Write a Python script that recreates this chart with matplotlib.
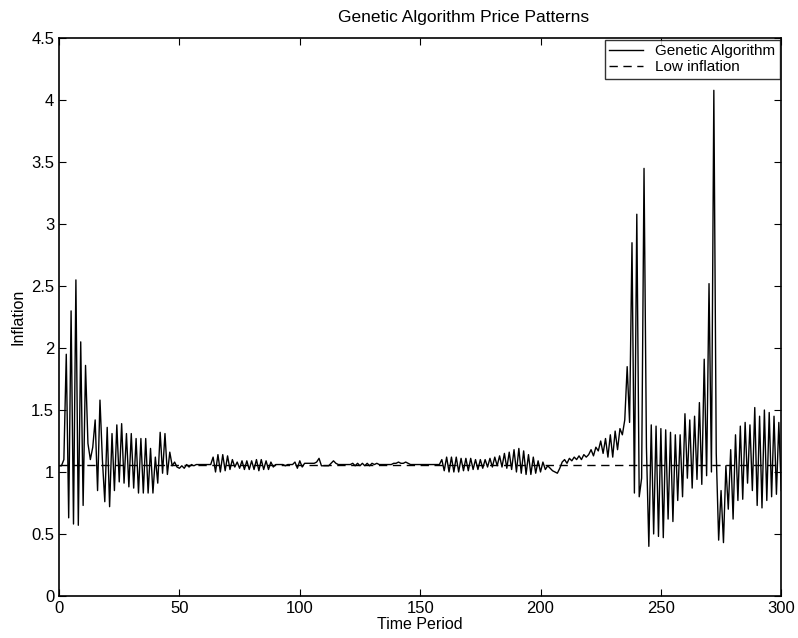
import matplotlib.pyplot as plt
import numpy as np

plt.rcParams['font.family'] = ['Liberation Sans', 'DejaVu Sans']

# inflation, one value per period (t = 0..300)
ga_inflation = [
    1.05, 1.05, 1.10, 1.95, 0.63, 2.30, 0.58, 2.55, 0.57, 2.05,
    0.73, 1.86, 1.23, 1.10, 1.20, 1.42, 0.85, 1.58, 1.10, 0.76,
    1.36, 0.72, 1.31, 0.85, 1.38, 0.92, 1.39, 0.91, 1.31, 0.88,
    1.31, 0.87, 1.27, 0.83, 1.27, 0.83, 1.27, 0.83, 1.19, 0.83,
    1.12, 0.91, 1.32, 0.99, 1.31, 0.98, 1.16, 1.05, 1.08, 1.04,
    1.03, 1.05, 1.03, 1.06, 1.04, 1.06, 1.05, 1.06, 1.06, 1.06,
    1.06, 1.06, 1.06, 1.06, 1.12, 1.00, 1.14, 1.00, 1.14, 1.01,
    1.13, 1.02, 1.10, 1.04, 1.08, 1.03, 1.09, 1.02, 1.09, 1.02,
    1.09, 1.02, 1.10, 1.01, 1.10, 1.02, 1.09, 1.02, 1.08, 1.04,
    1.06, 1.06, 1.06, 1.06, 1.05, 1.06, 1.06, 1.06, 1.08, 1.03,
    1.09, 1.04, 1.07, 1.07, 1.07, 1.07, 1.07, 1.08, 1.11, 1.05,
    1.05, 1.05, 1.05, 1.07, 1.09, 1.07, 1.06, 1.06, 1.06, 1.06,
    1.06, 1.06, 1.07, 1.05, 1.07, 1.05, 1.07, 1.05, 1.07, 1.05,
    1.07, 1.06, 1.07, 1.06, 1.06, 1.06, 1.06, 1.06, 1.06, 1.07,
    1.07, 1.08, 1.07, 1.07, 1.08, 1.07, 1.06, 1.06, 1.06, 1.06,
    1.06, 1.06, 1.06, 1.06, 1.06, 1.06, 1.06, 1.06, 1.06, 1.10,
    1.01, 1.12, 1.00, 1.12, 1.00, 1.12, 1.00, 1.11, 1.01, 1.11,
    1.01, 1.11, 1.02, 1.10, 1.02, 1.10, 1.03, 1.10, 1.04, 1.11,
    1.04, 1.12, 1.05, 1.13, 1.04, 1.15, 1.03, 1.16, 1.02, 1.18,
    1.00, 1.19, 0.99, 1.17, 0.98, 1.14, 0.98, 1.12, 0.99, 1.09,
    1.00, 1.08, 1.02, 1.05, 1.03, 1.01, 1.00, 0.99, 1.03, 1.08,
    1.10, 1.07, 1.11, 1.09, 1.12, 1.10, 1.13, 1.10, 1.14, 1.12,
    1.14, 1.18, 1.13, 1.20, 1.17, 1.25, 1.15, 1.27, 1.12, 1.30,
    1.12, 1.33, 1.18, 1.35, 1.30, 1.42, 1.85, 1.40, 2.85, 0.83,
    3.08, 0.80, 0.95, 3.45, 1.20, 0.40, 1.38, 0.50, 1.37, 0.48,
    1.35, 0.47, 1.34, 0.62, 1.32, 0.60, 1.30, 0.77, 1.30, 0.80,
    1.47, 0.95, 1.42, 0.87, 1.45, 0.94, 1.56, 0.90, 1.91, 0.97,
    2.52, 1.00, 4.08, 1.15, 0.45, 0.85, 0.43, 1.05, 0.70, 1.18,
    0.62, 1.30, 0.77, 1.37, 0.78, 1.40, 0.91, 1.38, 0.85, 1.52,
    0.73, 1.45, 0.71, 1.50, 0.77, 1.48, 0.80, 1.45, 0.82, 1.40,
    0.85,
]
low_inflation = 1.06

periods = np.arange(len(ga_inflation))

fig = plt.figure(figsize=(7.98, 6.38), dpi=100)
ax = fig.add_axes([0.074, 0.066, 0.905, 0.874])

ax.plot(periods, ga_inflation, color='black', linewidth=1.0, label='Genetic Algorithm')
ax.plot([periods[0], periods[-1]], [low_inflation, low_inflation], color='black',
        linewidth=1.0, linestyle=(0, (6, 4)), label='Low inflation')

ax.set_xlim(0, 300)
ax.set_ylim(0, 4.5)
ax.set_xticks(np.arange(0, 301, 50))
ax.set_yticks(np.arange(0, 4.51, 0.5))
ax.set_yticklabels(['0', '0.5', '1', '1.5', '2', '2.5', '3', '3.5', '4', '4.5'])
ax.tick_params(direction='in', top=True, right=True, labelsize=12, length=5)
for s in ax.spines.values():
    s.set_linewidth(1.2)

ax.set_xlabel('Time Period', fontsize=11.5, labelpad=1)
ax.set_ylabel('Inflation', fontsize=11.5, labelpad=4)
ax.set_title('Genetic Algorithm Price Patterns', fontsize=12.5, pad=12, x=0.56)

leg = ax.legend(loc='upper right', fontsize=11, frameon=True, fancybox=False,
                borderaxespad=0.1, handlelength=2.2, borderpad=0.3, labelspacing=0.1)
leg.get_frame().set_edgecolor('black')
leg.get_frame().set_linewidth(1.0)

plt.savefig('out.png', dpi=100)
